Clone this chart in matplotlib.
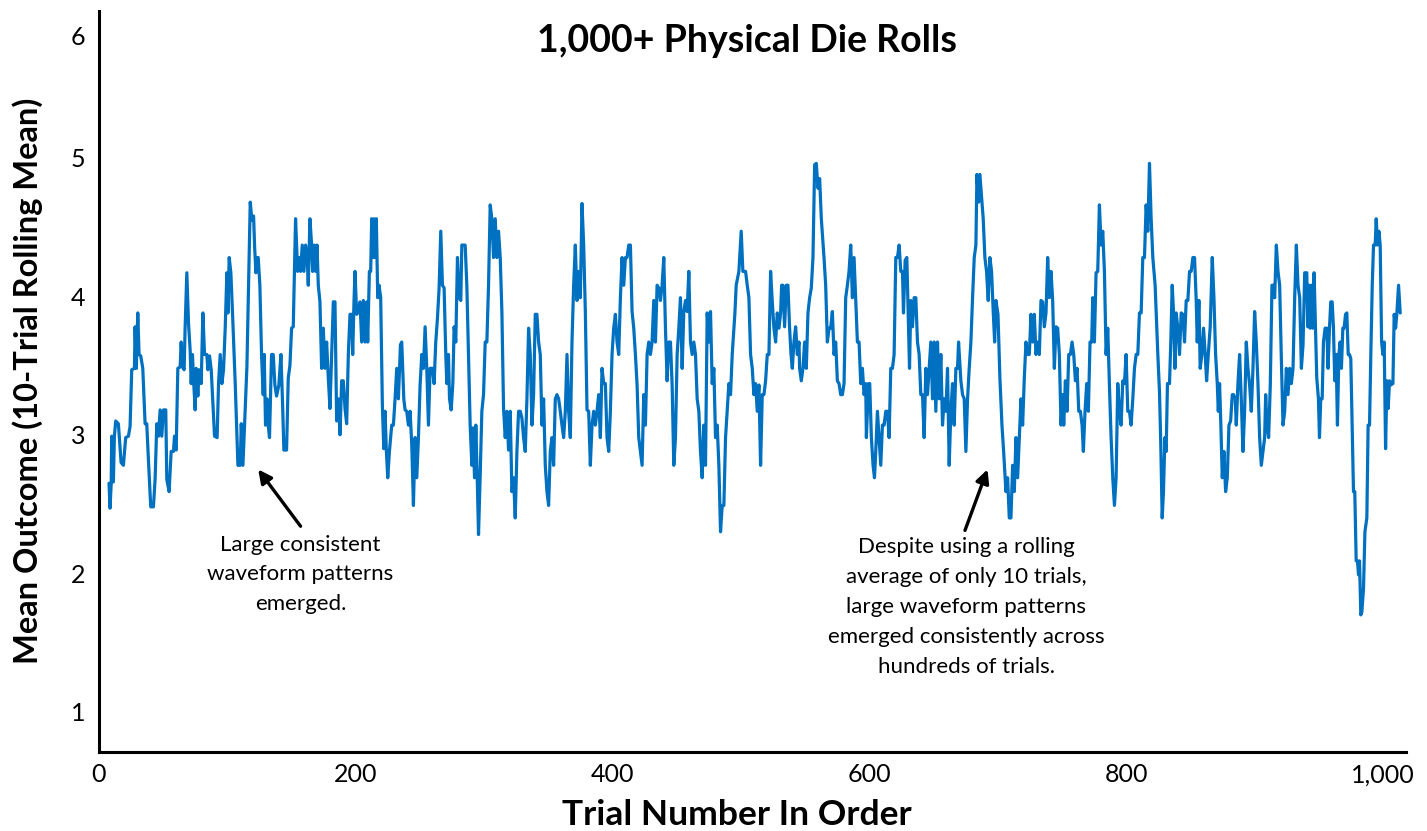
import matplotlib
matplotlib.use('Agg')
import matplotlib.pyplot as plt
import numpy as np

plt.rcParams['font.family'] = ['Lato', 'DejaVu Sans']

# ---- data (trial number, 10-trial rolling mean) ----
trials_a = [7.8, 8.6, 9.5, 9.9, 11.2, 12.0, 13.0, 15.1, 17.2, 19.0, 20.8, 22.9, 24.2, 25.5, 27.6, 28.1, 29.1, 30.2, 31.2, 32.5,
            34.1, 35.9, 37.2, 38.5, 40.3, 42.4, 43.7, 45.0, 46.3, 47.6, 48.9, 50.2, 52.0, 52.8, 54.6, 56.2, 58.0, 58.8, 60.1, 61.4,
            63.2, 64.0, 65.0, 66.3, 67.1, 68.4, 69.7, 71.0, 71.8, 72.8, 73.8, 74.9, 75.7, 77.0, 78.0, 79.6, 80.9, 82.2, 84.0, 84.8,
            86.1, 87.4, 88.4, 90.0, 92.0, 93.1, 94.4, 95.7, 97.0, 98.3, 99.6, 100.4, 101.4, 102.7, 104.0, 106.1, 108.2, 110.0, 110.8, 112.1,
            113.4, 115.2, 117.8, 119.1, 120.4, 121.2, 122.2, 123.2]
means_a = [2.65, 2.47, 2.65, 2.99, 2.66, 2.99, 3.10, 3.08, 2.80, 2.78, 2.98, 2.99, 3.06, 3.47, 3.48, 3.78, 3.48, 3.88, 3.58, 3.57,
           3.48, 3.08, 3.08, 2.82, 2.48, 2.48, 2.68, 3.08, 2.99, 3.18, 2.99, 3.18, 3.18, 2.68, 2.59, 2.88, 2.88, 2.99, 2.89, 3.48,
           3.49, 3.67, 3.49, 3.47, 3.78, 4.17, 3.81, 3.61, 3.37, 3.58, 3.37, 3.18, 3.48, 3.28, 3.47, 3.37, 3.88, 3.58, 3.58, 3.47,
           3.57, 3.47, 3.28, 2.99, 2.98, 3.37, 3.58, 3.37, 3.47, 3.77, 4.17, 3.88, 4.28, 4.17, 3.88, 3.37, 2.78, 2.78, 3.08, 2.78,
           3.08, 3.49, 4.68, 4.55, 4.58, 4.36, 4.17, 4.28]

trials_b = [124.0, 125.3, 126.6, 127.9, 128.7, 129.7, 130.8, 131.8, 132.8, 134.4, 135.7, 137.0, 138.3, 140.1, 141.7, 143.0, 144.0, 146.1, 147.4, 148.7,
            150.0, 151.3, 153.1, 154.7, 155.7, 157.0, 158.3, 159.6, 160.9, 162.2, 163.0, 164.3, 165.6, 166.4, 167.7, 168.7, 169.8, 170.8, 172.1, 173.4,
            174.7, 176.0, 177.3, 178.6, 179.9, 181.2, 182.5, 183.8, 185.1, 186.4, 187.7, 189.0, 190.3, 191.6, 192.9, 194.2, 195.5, 196.8, 197.6, 198.6,
            199.4, 200.7, 202.0, 203.3, 204.6, 205.9, 207.2, 208.5, 209.3, 210.6, 211.6, 212.4, 213.2, 214.2, 215.0, 216.0, 217.1, 218.1, 219.4, 220.7,
            221.8, 222.8, 223.8, 224.9, 226.2, 228.0, 229.3, 230.6, 231.9, 233.2, 234.8, 235.8, 237.4, 238.4, 239.7]
means_b = [4.28, 4.08, 3.58, 3.29, 3.58, 3.07, 3.26, 3.07, 2.98, 3.58, 3.58, 3.36, 3.28, 3.36, 3.58, 3.22, 2.89, 2.89, 3.41, 3.50,
           3.77, 3.78, 4.56, 4.18, 4.28, 4.18, 4.37, 4.18, 4.37, 4.28, 4.08, 4.56, 4.37, 4.18, 4.37, 4.18, 4.37, 4.08, 3.96, 3.48,
           3.77, 3.48, 3.67, 3.41, 3.19, 3.58, 3.96, 3.96, 3.10, 3.26, 3.00, 3.39, 3.39, 3.19, 3.08, 3.58, 3.87, 3.87, 3.58, 3.96,
           4.18, 3.87, 3.89, 3.96, 3.67, 3.97, 3.67, 3.96, 3.67, 4.18, 4.18, 4.56, 4.28, 4.56, 4.28, 4.56, 3.99, 4.08, 3.99, 3.22,
           2.90, 3.17, 2.89, 2.69, 2.88, 3.07, 3.07, 3.26, 3.48, 3.26, 3.65, 3.67, 3.26, 3.18, 3.17]

trials_c = [241.0, 242.3, 243.6, 244.9, 246.2, 247.5, 248.8, 250.1, 251.4, 252.7, 254.0, 255.3, 256.6, 257.9, 259.7, 261.0, 262.3, 263.6, 264.9, 266.2,
            267.5, 268.8, 270.1, 270.9, 272.2, 273.0, 274.3, 275.6, 276.6, 277.9, 279.2, 280.5, 281.8, 282.6, 283.9, 285.2, 286.5, 287.8, 289.1, 290.4,
            291.2, 292.5, 293.5, 294.6, 295.6, 296.9, 298.2, 299.5, 300.8, 302.1, 303.4, 304.7, 306.0, 307.3, 308.6, 309.9, 311.2, 312.5, 313.8, 315.1,
            316.4, 317.7, 319.0, 320.3, 321.6, 322.9, 324.2, 325.5, 326.8, 328.1, 329.4, 330.7, 332.0, 333.3, 334.6, 335.9, 337.2, 338.5, 339.8, 341.1,
            342.4, 343.7, 345.0, 346.3, 347.6, 348.9, 350.2, 351.5, 352.8, 354.1, 355.4, 356.7]
means_c = [3.07, 3.17, 2.93, 2.49, 2.98, 2.69, 2.98, 3.36, 3.58, 3.48, 3.78, 3.48, 3.07, 3.48, 3.48, 3.37, 3.67, 3.84, 4.06, 4.47,
           4.08, 4.06, 3.58, 3.37, 3.58, 3.26, 3.18, 3.37, 3.78, 3.67, 4.28, 3.99, 3.97, 4.37, 4.37, 4.37, 4.08, 3.58, 3.07, 2.78,
           3.05, 2.69, 3.07, 2.69, 2.28, 2.71, 3.17, 3.29, 3.67, 3.67, 4.08, 4.66, 4.56, 4.28, 4.56, 4.28, 4.47, 4.28, 3.89, 3.19,
           2.98, 3.17, 2.89, 3.17, 2.59, 2.69, 2.40, 2.88, 3.17, 3.17, 3.12, 2.98, 2.88, 3.26, 3.77, 3.58, 3.07, 3.29, 3.87, 3.87,
           3.67, 3.58, 3.07, 3.26, 2.78, 2.59, 2.49, 2.88, 2.98, 2.78, 3.26, 3.29]

trials_d = [358.0, 359.3, 360.6, 361.9, 363.2, 364.5, 365.8, 367.1, 368.4, 369.7, 371.0, 372.3, 373.6, 374.9, 376.2, 377.5, 378.8, 380.1, 381.4, 382.7,
            384.0, 385.3, 386.6, 387.9, 389.2, 390.5, 391.8, 393.1, 394.4, 395.7, 397.0, 398.3, 399.6, 400.9, 402.2, 403.5, 404.8, 406.1, 407.4, 408.7,
            410.0, 411.3, 412.6, 413.9, 415.2, 416.5, 417.8, 419.1, 420.4, 421.7, 423.0, 424.3, 425.6, 426.9, 428.2, 429.5, 430.8, 432.1, 433.4, 434.7,
            436.0, 437.3, 438.6, 439.9, 441.2, 442.5, 443.8, 445.1, 446.4, 447.7, 449.0, 450.3, 451.6, 452.9, 454.2, 455.5, 456.8, 458.1, 459.4, 460.7,
            462.0, 463.3, 464.6, 465.9, 467.2, 468.5, 469.8, 471.1, 472.4, 473.7]
means_d = [3.26, 3.17, 3.07, 2.98, 3.17, 3.58, 3.17, 2.98, 3.67, 4.08, 4.37, 3.97, 4.18, 3.99, 4.67, 4.37, 3.89, 3.18, 3.17, 2.78,
           3.07, 3.17, 3.07, 3.17, 3.29, 2.98, 3.48, 3.37, 3.37, 2.98, 2.88, 3.17, 3.58, 3.77, 3.87, 3.67, 3.58, 3.99, 4.28, 4.08,
           4.28, 4.28, 4.37, 4.37, 3.89, 3.77, 3.58, 3.36, 2.98, 2.88, 2.78, 3.29, 3.07, 3.58, 3.67, 3.58, 3.67, 3.97, 3.67, 4.08,
           4.06, 3.97, 4.08, 4.28, 3.77, 3.39, 3.67, 3.67, 3.36, 2.78, 2.98, 3.58, 3.77, 3.99, 3.48, 3.89, 3.97, 3.89, 4.18, 3.67,
           3.58, 3.67, 3.58, 3.26, 3.17, 2.88, 2.69, 3.07, 2.78, 3.88]

trials_e = [475.0, 476.3, 477.6, 478.9, 480.2, 481.5, 482.8, 484.1, 485.4, 486.7, 488.0, 489.3, 490.6, 491.9, 493.2, 494.5, 495.3, 496.3, 498.4, 500.2,
            501.5, 503.6, 504.9, 506.2, 507.5, 508.8, 510.1, 511.4, 512.7, 514.0, 515.3, 516.6, 517.9, 519.2, 520.5, 521.8, 523.1, 524.4, 525.7, 527.0,
            528.3, 529.6, 530.9, 531.7, 532.7, 534.0, 535.3, 536.6, 537.9, 539.0, 540.0, 541.3, 542.6, 543.9, 545.2, 545.7, 547.0, 548.3, 549.6, 550.9,
            552.2, 553.5, 554.8, 556.1, 557.4, 558.7, 560.0, 561.3, 562.6, 564.7, 566.0, 567.3, 568.6, 569.9, 571.2, 572.5, 573.8, 575.1, 576.4, 577.7,
            579.0, 580.3, 581.6, 582.9, 584.2, 585.5, 586.8, 588.1, 589.4, 590.7]
means_e = [3.67, 3.89, 3.37, 3.48, 2.98, 3.07, 2.78, 2.30, 2.49, 2.49, 2.98, 3.17, 3.37, 3.29, 3.58, 3.77, 3.88, 4.08, 4.18, 4.47,
           4.18, 4.18, 4.08, 3.99, 3.58, 3.48, 3.29, 3.37, 3.17, 3.36, 2.78, 3.29, 3.29, 3.39, 3.58, 3.58, 4.18, 3.96, 3.77, 3.67,
           3.88, 3.77, 3.88, 4.08, 4.08, 3.78, 4.08, 4.08, 3.77, 3.58, 3.48, 3.67, 3.78, 3.58, 3.67, 3.48, 3.39, 3.48, 3.67, 3.48,
           3.88, 3.99, 4.06, 4.28, 4.95, 4.96, 4.78, 4.85, 4.56, 4.28, 4.08, 3.67, 3.77, 3.77, 3.89, 3.58, 3.67, 3.39, 3.37, 3.29,
           3.29, 3.37, 3.99, 4.08, 4.18, 4.37, 3.99, 4.28, 3.97, 3.67]

trials_f = [592.0, 593.3, 594.6, 595.9, 597.2, 597.7, 599.3, 600.3, 601.6, 602.9, 604.0, 605.0, 606.3, 607.6, 608.9, 610.2, 611.5, 612.8, 614.1, 615.4,
            616.7, 618.0, 619.3, 620.6, 621.9, 623.2, 624.5, 625.8, 626.6, 627.9, 629.2, 630.2, 631.3, 632.3, 633.6, 634.9, 636.2, 637.5, 638.8, 640.1,
            641.4, 642.7, 644.0, 645.3, 646.6, 647.9, 649.2, 650.5, 651.8, 653.1, 654.4, 655.7, 657.0, 658.3, 659.6, 660.9, 662.2, 663.5, 664.8, 666.1,
            667.4, 668.7, 669.5, 671.3, 672.6, 673.9, 675.2, 676.5, 677.8, 679.1, 680.4, 681.7, 683.0, 683.8, 685.1, 686.1, 687.7, 688.7, 690.0, 691.3,
            692.6, 693.9, 695.2, 696.5, 697.6, 698.6, 700.2, 701.7, 703.3, 704.6, 706.4, 707.7, 709.0]
means_f = [3.67, 3.37, 3.48, 3.29, 3.37, 2.98, 3.37, 3.37, 2.98, 2.78, 2.69, 2.88, 3.17, 2.98, 2.78, 3.07, 3.07, 3.17, 3.17, 2.98,
           3.48, 3.48, 3.58, 4.28, 4.28, 4.37, 4.18, 4.18, 3.88, 4.26, 4.28, 3.89, 3.48, 3.97, 3.78, 3.99, 3.99, 3.67, 3.58, 3.29,
           3.29, 2.98, 3.48, 3.29, 3.48, 3.67, 3.26, 3.67, 3.17, 3.67, 3.26, 3.58, 3.07, 3.26, 3.17, 3.48, 2.78, 3.17, 3.37, 3.07,
           3.48, 3.48, 3.67, 3.39, 3.29, 3.26, 2.88, 3.26, 3.48, 3.67, 3.99, 4.28, 4.37, 4.88, 4.68, 4.88, 4.68, 4.56, 4.28, 4.18,
           3.97, 4.28, 4.18, 3.89, 3.67, 3.97, 3.87, 3.41, 3.07, 2.88, 2.59, 2.69, 2.40]

trials_g = [710.3, 711.6, 712.9, 714.2, 715.5, 716.8, 718.1, 719.4, 720.7, 722.0, 723.3, 724.6, 725.9, 727.2, 728.5, 729.8, 731.1, 732.4, 733.7, 735.0,
            736.3, 737.6, 738.9, 740.2, 741.5, 742.8, 744.1, 745.4, 746.7, 748.0, 749.3, 750.6, 751.4, 752.7, 754.0, 755.3, 756.6, 757.9, 759.2, 760.5,
            761.8, 763.1, 764.4, 765.7, 766.7, 768.0, 769.3, 770.6, 771.9, 773.2, 774.0, 775.3, 776.6, 777.9, 779.2, 780.5, 781.8, 783.1, 784.4, 785.7,
            787.0, 788.3, 789.6, 790.9, 792.2, 793.5, 794.8, 796.1, 797.4, 798.7, 800.0, 801.3, 802.6, 803.9, 805.2, 806.5, 807.8, 809.1, 810.4, 811.7,
            813.0, 814.3, 815.6, 816.9, 818.2, 819.5, 820.8, 822.6, 824.7]
means_g = [2.40, 2.78, 2.59, 2.98, 2.69, 2.98, 3.26, 3.07, 3.41, 3.67, 3.58, 3.58, 3.87, 3.67, 3.87, 3.58, 3.67, 3.58, 3.97, 3.96,
           3.78, 3.88, 4.28, 3.99, 4.18, 3.97, 3.48, 3.78, 3.77, 3.58, 3.07, 3.29, 3.07, 3.39, 3.17, 3.58, 3.58, 3.67, 3.58, 3.39,
           3.48, 3.17, 3.17, 3.07, 2.88, 3.17, 3.37, 3.17, 3.67, 3.67, 3.99, 3.67, 4.17, 4.18, 4.66, 4.37, 4.47, 4.18, 3.58, 3.77,
           3.36, 2.98, 2.69, 2.49, 2.69, 3.37, 3.17, 3.07, 3.39, 3.37, 3.58, 3.17, 3.17, 3.07, 3.26, 3.48, 3.58, 3.58, 3.88, 3.88,
           4.28, 4.28, 4.66, 4.47, 4.96, 4.56, 4.28, 4.08, 3.58]

trials_h = [826.0, 827.0, 828.1, 829.1, 830.2, 831.2, 832.2, 833.8, 834.8, 835.9, 836.9, 838.0, 839.0, 840.3, 841.6, 842.9, 844.2, 845.5, 846.8, 848.1,
            849.4, 850.7, 852.0, 853.3, 854.6, 855.4, 856.7, 857.7, 859.0, 860.3, 861.6, 862.7, 864.0, 865.5, 867.1, 868.4, 869.7, 871.0, 871.8, 872.8,
            873.8, 874.9, 876.2, 877.5, 878.8, 880.1, 881.4, 882.7, 883.7, 885.0, 885.8, 887.1, 888.4, 889.7, 891.0, 892.3, 893.6, 894.9, 896.2, 897.5,
            898.8, 900.1, 901.4, 902.7, 904.0, 905.3, 906.6, 907.9, 908.7, 909.7, 911.0, 912.3, 913.6, 914.9, 915.7, 917.0, 918.3, 919.6, 920.9, 922.2,
            923.5, 924.8, 926.1, 927.4, 928.7, 930.0, 931.3, 932.6, 933.9, 935.2, 936.5, 937.8, 939.1]
means_h = [3.31, 2.93, 2.40, 2.59, 2.98, 2.88, 3.37, 3.37, 3.67, 4.08, 3.89, 3.48, 3.88, 3.77, 3.58, 3.88, 3.87, 3.67, 3.97, 3.97,
           4.18, 4.18, 4.28, 4.28, 3.97, 3.67, 3.97, 3.48, 3.58, 3.77, 3.58, 3.39, 3.58, 3.78, 4.28, 3.99, 3.58, 3.37, 3.17, 3.37,
           3.07, 2.69, 2.88, 2.59, 2.69, 3.07, 3.10, 3.29, 3.29, 3.26, 3.07, 3.37, 3.58, 3.26, 2.88, 3.17, 3.67, 3.48, 3.36, 3.17,
           3.48, 3.89, 3.67, 3.37, 2.98, 2.78, 2.88, 2.98, 3.29, 3.07, 2.98, 3.36, 4.08, 4.08, 3.99, 4.37, 4.18, 4.08, 3.55, 3.07,
           3.17, 3.48, 3.29, 3.48, 3.37, 3.48, 3.99, 4.37, 4.08, 3.99, 3.48, 3.65, 4.17]

trials_i = [940.7, 941.5, 942.3, 943.3, 944.3, 945.4, 946.4, 947.5, 948.5, 949.8, 950.6, 951.6, 952.7, 953.7, 955.0, 956.3, 957.3, 958.4, 959.4, 960.5,
            961.5, 962.5, 963.6, 964.6, 965.7, 966.7, 967.7, 968.8, 969.8, 970.9, 971.9, 973.0, 974.0, 975.0, 976.1, 977.1, 978.1, 979.2, 980.2, 981.0,
            981.8, 982.8, 983.6, 984.9, 986.0, 987.5, 988.5, 989.6, 990.6, 991.7, 992.7, 994.0, 994.8, 995.8, 996.9, 997.9, 999.0, 1000.0, 1001.0, 1002.1,
            1003.1, 1004.1, 1005.2, 1006.2, 1007.8, 1008.8, 1009.9, 1010.9, 1012.2, 1013.5]
means_i = [4.17, 3.78, 4.08, 3.77, 4.08, 3.77, 4.17, 3.78, 3.41, 3.26, 2.98, 3.26, 3.26, 3.67, 3.77, 3.77, 3.48, 3.77, 3.96, 3.96,
           3.77, 3.39, 3.58, 3.07, 3.58, 3.67, 3.48, 3.77, 3.77, 3.87, 3.88, 3.58, 3.58, 3.55, 3.05, 2.59, 2.59, 2.09, 2.09, 1.99,
           2.09, 1.70, 1.72, 1.89, 2.30, 2.40, 3.07, 3.07, 3.58, 4.08, 4.37, 4.37, 4.56, 4.37, 4.47, 4.37, 3.67, 3.58, 3.67, 2.90,
           3.39, 3.19, 3.39, 3.36, 3.37, 3.87, 3.77, 3.88, 4.08, 3.88]

x_ticks = [0, 200, 400, 600, 800, 1000]
x_tick_labels = ['0', '200', '400', '600', '800', '1,000']
y_ticks = [1, 2, 3, 4, 5, 6]

title = '1,000+ Physical Die Rolls'
x_label = 'Trial Number In Order'
y_label = 'Mean Outcome (10-Trial Rolling Mean)'
note_left = 'Large consistent\nwaveform patterns\nemerged.'
note_right = ('Despite using a rolling\naverage of only 10 trials,\nlarge waveform patterns\n'
              'emerged consistently across\nhundreds of trials.')

# ---- assemble ----
t_parts = [trials_a, trials_b, trials_c, trials_d, trials_e, trials_f, trials_g, trials_h, trials_i]
m_parts = [means_a, means_b, means_c, means_d, means_e, means_f, means_g, means_h, means_i]
xs, ys = [], []
for tp, mp in zip(t_parts, m_parts):
    if len(tp) != len(mp):
        print('length mismatch', len(tp), len(mp))
    n = min(len(tp), len(mp))
    xs.extend(tp[:n])
    ys.extend(mp[:n])
xs = np.array(xs)
ys = np.array(ys)

W, H = 1427, 831
fig = plt.figure(figsize=(W / 100, H / 100), dpi=100)
ax = fig.add_axes([99 / W, 1 - 752 / H, (1406 - 99) / W, (752 - 11) / H])

ax.plot(xs, ys, color='#0070C0', lw=2.3, solid_joinstyle='round', solid_capstyle='round')

ax.set_xlim(0, 1018)
ax.set_ylim(0.71, 6.06)
ax.set_xticks(x_ticks)
ax.set_xticklabels(x_tick_labels)
ax.set_yticks(y_ticks[:-1])
ax.set_yticklabels([str(v) for v in y_ticks[:-1]])
# top label sits slightly lower (kept inside the frame as in the reference)
ax.annotate(str(y_ticks[-1]), xy=(0, y_ticks[-1]), xycoords=('axes fraction', 'data'),
            xytext=(-14, -18), textcoords='offset pixels', ha='right', va='center', fontsize=18)

for s in ['top', 'right']:
    ax.spines[s].set_visible(False)
for s in ['left', 'bottom']:
    ax.spines[s].set_linewidth(2.2)
    ax.spines[s].set_color('black')
ax.tick_params(axis='both', length=0, labelsize=18)
ax.tick_params(axis='y', pad=10)
ax.tick_params(axis='x', pad=8)

fig.text(0.5235, 0.9507, title, ha='center', va='center', fontsize=27, fontweight='bold')
fig.text(0.516, 0.019, x_label, ha='center', va='center', fontsize=25.5, fontweight='bold')
fig.text(0.0196, 0.5415, y_label, ha='center', va='center', rotation=90, fontsize=23.5, fontweight='bold')

arrow = dict(arrowstyle='-|>', color='black', lw=2.4, mutation_scale=20, shrinkA=0, shrinkB=0)
ax.annotate('', xy=(124, 2.75), xytext=(157, 2.34), arrowprops=arrow)
ax.text(157, 2.28, note_left, ha='center', va='top', fontsize=16, linespacing=1.62)
ax.annotate('', xy=(692, 2.75), xytext=(674.5, 2.31), arrowprops=arrow)
ax.text(675.5, 2.26, note_right, ha='center', va='top', fontsize=16, linespacing=1.62)

fig.savefig('out.png', dpi=100)
